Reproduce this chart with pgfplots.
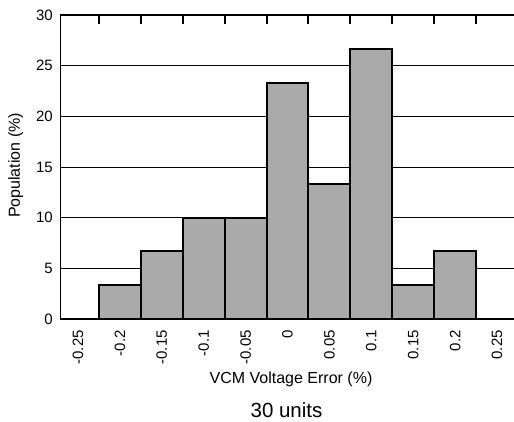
\documentclass[border=0pt]{standalone}
\usepackage{pgfplots}
\pgfplotsset{compat=1.18}
\usepackage{fontspec}
\setmainfont{Liberation Sans}
\definecolor{barfill}{RGB}{170,170,170}
\begin{document}
\begin{tikzpicture}
\path[use as bounding box] (-60bp,-103bp) rectangle (454bp,319bp);
\begin{axis}[at={(0,0)}, anchor=south west, scale only axis,
  width=454bp, height=304bp,
  xmin=-0.2715, xmax=0.2703, ymin=0, ymax=30,
  axis line style={draw=none},
  xtick={-0.225,-0.175,-0.125,-0.075,-0.025,0.025,0.075,0.125,0.175,0.225},
  xticklabels={},
  extra x ticks={-0.25,-0.2,-0.15,-0.1,-0.05,0,0.05,0.1,0.15,0.2,0.25},
  extra x tick labels={-0.25,-0.2,-0.15,-0.1,-0.05,0,0.05,0.1,0.15,0.2,0.25},
  extra x tick style={major tick length=0pt, xtick style={draw=none}},
  xtick pos=right, xticklabel pos=left, ytick pos=left,
  ytick={0,5,10,15,20,25,30},
  major tick length=9bp, tick align=inside,
  xtick style={draw=black, line width=2bp},
  ytick style={draw=none},
  ymajorgrids, grid style={black, line width=0.8bp},
  /pgf/number format/assume math mode=true,
  xticklabel style={rotate=90, anchor=east, inner sep=0pt, inner xsep=11bp, font=\fontsize{15bp}{18bp}\selectfont},
  yticklabel style={anchor=east, inner sep=0pt, inner xsep=7bp, font=\fontsize{15bp}{18bp}\selectfont},
]
\addplot[ybar, bar width=0.05, bar shift=0pt, fill=barfill, draw=black, line width=2bp]
  coordinates {(-0.2,3.333) (-0.15,6.667) (-0.1,10) (-0.05,10) (0,23.333) (0.05,13.333) (0.1,26.667) (0.15,3.333) (0.2,6.667)};
\draw[black, line width=2bp] (rel axis cs:1,1) -- (rel axis cs:0,1) -- (rel axis cs:0,0) -- (rel axis cs:1,0);
\end{axis}
\node[rotate=90, anchor=base, font=\fontsize{16bp}{19bp}\selectfont] at (-40bp,153.5bp) {Population (\%)};
\node[anchor=base, font=\fontsize{16bp}{19bp}\selectfont] at (231bp,-64bp) {VCM Voltage Error (\%)};
\node[anchor=base, font=\fontsize{20.5bp}{24bp}\selectfont] at (226.5bp,-98bp) {30 units};
\end{tikzpicture}
\end{document}
